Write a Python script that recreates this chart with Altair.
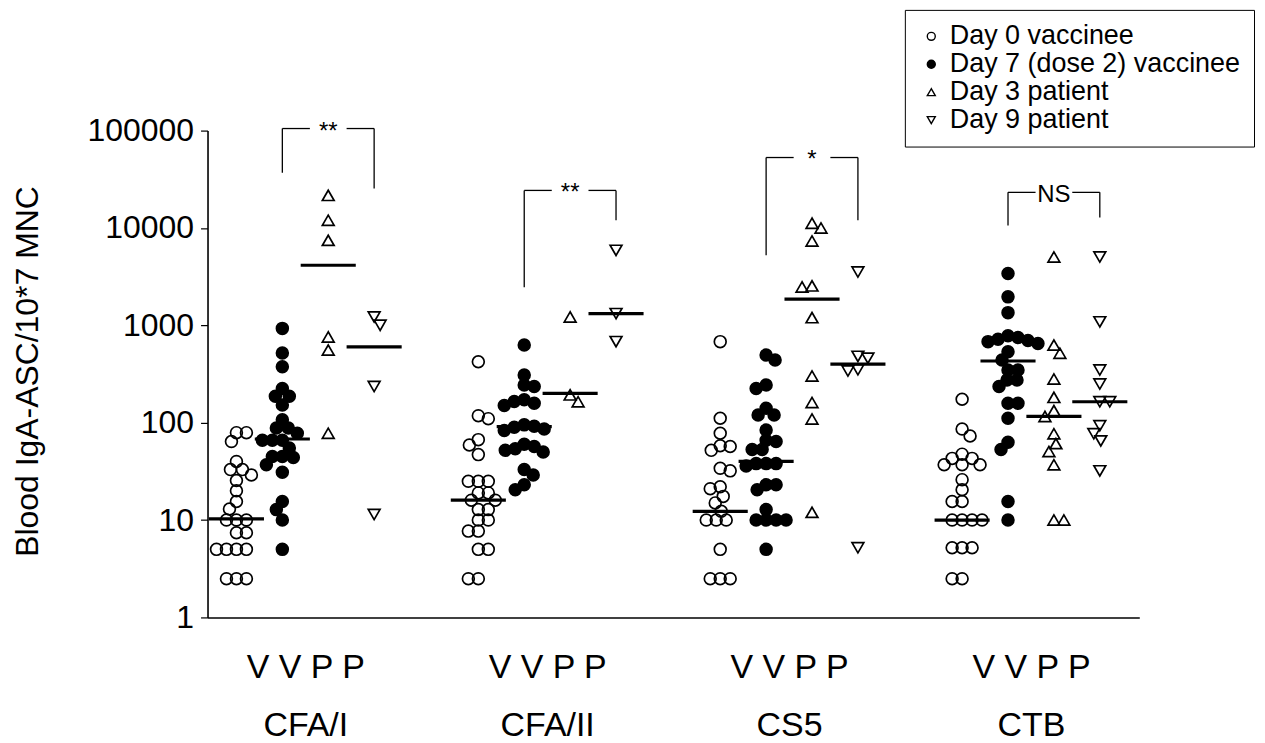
import math
import altair as alt
import pandas as pd

# ---------------- data ----------------
GROUPS = ["CFA/I", "CFA/II", "CS5", "CTB"]
SERIES = ["Day 0 vaccinee", "Day 7 (dose 2) vaccinee", "Day 3 patient", "Day 9 patient"]

CFA1_D0 = [79, 79, 64, 40, 33, 33, 29, 25.5, 20, 15.5, 13, 10, 10, 10, 7.4, 7.4, 5, 5, 5, 5, 2.5, 2.5, 2.5]
CFA1_D7 = [930, 520, 375, 225, 187, 187, 152, 107, 88, 88, 78, 66, 66, 66, 55, 45, 45, 44, 37, 31, 15.5, 12.8, 10, 5]
CFA1_P3 = [21600, 12000, 7460, 760, 557, 78]
CFA1_P9 = [1220, 1000, 235, 11.4]

CFA2_D0 = [423, 118, 110, 67, 59, 47, 25, 25, 25, 19, 19, 16, 16, 12.8, 12.8, 10, 10, 7.7, 7.7, 5, 5, 2.5, 2.5]
CFA2_D7 = [627, 309, 244, 235, 172, 165, 158, 150, 95, 92, 90, 86, 83, 60, 57, 54, 52, 50, 33, 29, 23, 20.5]
CFA2_P3 = [1220, 193, 164]
CFA2_P9 = [5890, 1320, 680]

CS5_D0 = [680, 111, 78, 58, 57, 52, 34, 32, 22, 21, 17.5, 15, 12.3, 10, 10, 10, 5, 2.5, 2.5, 2.5]
CS5_D7 = [495, 440, 244, 225, 141, 120, 120, 84, 66, 64, 53, 53, 38, 38, 38, 36, 23, 23, 20.5, 12.8, 10, 10, 10, 10, 5]
CS5_P3 = [11200, 10000, 7350, 2540, 2480, 1200, 302, 161, 109, 12]
CS5_P9 = [3530, 480, 460, 350, 340, 5.2]

CTB_D0 = [174, 86, 73, 47.5, 43, 43, 37, 37, 37, 26, 20.5, 15.5, 15.5, 10, 10, 10, 10, 5.2, 5.2, 5.2, 2.5, 2.5]
CTB_D7 = [3400, 1960, 1350, 780, 750, 720, 700, 680, 650, 535, 440, 348, 348, 275, 275, 235, 158, 158, 111, 63, 53, 15.5, 10]
CTB_P3 = [5030, 627, 516, 281, 182, 133, 116, 77, 61, 50.6, 37, 10, 10]
CTB_P9 = [5030, 1086, 348, 250, 164, 164, 93, 77, 65, 32]

# median bars as drawn
MED_CFA1 = [10.3, 68, 4140, 600]
MED_CFA2 = [16, 91, 200, 1320]
MED_CS5 = [12.3, 40, 1855, 400]
MED_CTB = [10, 430, 116, 164]

# significance brackets (Day 7 vaccinee vs Day 9 patient)
BR_TOP = [105000, 24300, 52900, 23200]
BR_LEFT_END = [37000, 2460, 5240, 10600]
BR_RIGHT_END = [25500, 12000, 12000, 12800]
BR_LABEL = ["**", "**", "*", "NS"]

DATA = {
    "CFA/I": [CFA1_D0, CFA1_D7, CFA1_P3, CFA1_P9],
    "CFA/II": [CFA2_D0, CFA2_D7, CFA2_P3, CFA2_P9],
    "CS5": [CS5_D0, CS5_D7, CS5_P3, CS5_P9],
    "CTB": [CTB_D0, CTB_D7, CTB_P3, CTB_P9],
}
MEDIANS = {"CFA/I": MED_CFA1, "CFA/II": MED_CFA2, "CS5": MED_CS5, "CTB": MED_CTB}

# ---------------- layout ----------------
FONT = "Liberation Sans, Arial, Helvetica, sans-serif"
W, H = 934, 488
GROUP_STEP = 5.27
X_MIN = -0.63
X_MAX = X_MIN + 20.3
PX_X = W / (X_MAX - X_MIN)
PX_Y = H / 5.0


def swarm(values, dmin=10.0):
    ys = [math.log10(v) * PX_Y for v in values]
    placed, offs = [], []
    flip = 1
    for y in ys:
        k = 0
        hit = None
        while hit is None:
            cands = [0.0] if k == 0 else [float(k * flip), float(-k * flip)]
            for c in cands:
                if all((c - ox) ** 2 + (y - oy) ** 2 >= dmin ** 2 for ox, oy in placed):
                    hit = c
                    break
            k += 1
        if hit != 0:
            flip = -flip
        placed.append((hit, y))
        offs.append(hit)
    return offs


rows = []
for gi, g in enumerate(GROUPS):
    for si, s in enumerate(SERIES):
        vals = DATA[g][si]
        offs = swarm(vals)
        for v, o in zip(vals, offs):
            rows.append({"group": g, "series": s, "value": v,
                         "x": gi * GROUP_STEP + si + o / PX_X})
points_df = pd.DataFrame(rows)

med_rows = []
for gi, g in enumerate(GROUPS):
    for si, s in enumerate(SERIES):
        c = gi * GROUP_STEP + si
        med_rows.append({"x1": c - 0.6, "x2": c + 0.6, "med": MEDIANS[g][si]})
med_df = pd.DataFrame(med_rows)

br_rows, br_text = [], []
for gi, g in enumerate(GROUPS):
    l = gi * GROUP_STEP + 1
    r = gi * GROUP_STEP + 3
    br_rows += [
        {"x": l, "x2": l, "y": BR_LEFT_END[gi], "y2": BR_TOP[gi]},
        {"x": r, "x2": r, "y": BR_RIGHT_END[gi], "y2": BR_TOP[gi]},
        {"x": l, "x2": l + 0.6, "y": BR_TOP[gi], "y2": BR_TOP[gi]},
        {"x": r - 0.6, "x2": r, "y": BR_TOP[gi], "y2": BR_TOP[gi]},
    ]
    br_text.append({"x": (l + r) / 2, "y": BR_TOP[gi], "label": BR_LABEL[gi]})
br_df = pd.DataFrame(br_rows)
brt_df = pd.DataFrame(br_text)

label_pos = [gi * GROUP_STEP + 1.5 for gi in range(len(GROUPS))]
parts = []
for gi, g in enumerate(GROUPS):
    item = "['V V P P', '%s']" % g
    if gi < len(GROUPS) - 1:
        parts.append("datum.value < %.2f ? %s" % (label_pos[gi] + 1, item))
    else:
        parts.append(item)
x_label_expr = " : ".join(parts)

x_scale = alt.Scale(domain=[X_MIN, X_MAX], nice=False, zero=False)
y_scale = alt.Scale(type="log", domain=[1, 100000], nice=False)

x_axis = alt.Axis(values=label_pos, labelExpr=x_label_expr, title=None, ticks=False,
                  grid=False, labelFontSize=34, labelFont=FONT, labelColor="black",
                  labelLineHeight=58, labelPadding=33, labelOverlap=False,
                  labelFlush=False, labelBaseline="top",
                  domainColor="black", domainWidth=1.6)
y_axis = alt.Axis(values=[1, 10, 100, 1000, 10000, 100000], format="d",
                  title="Blood IgA-ASC/10*7 MNC", titleFontSize=32, titleFont=FONT,
                  titleFontWeight="normal", titleColor="black", titleAngle=270,
                  titleX=-180, titleY=241, titleAlign="center", titleBaseline="middle",
                  labelFontSize=32, labelFont=FONT, labelColor="black", labelPadding=7,
                  tickSize=7, tickColor="black", tickWidth=1.2, grid=False,
                  domainColor="black", domainWidth=1.6)

legend = alt.Legend(title=None, orient="none", legendX=699, legendY=-121,
                    labelFontSize=27, labelFont=FONT, labelColor="black", labelLimit=0,
                    symbolSize=64, symbolStrokeWidth=1.4,
                    strokeColor="black", fillColor="white", padding=13, rowPadding=0,
                    labelOffset=5)

fill_scale = alt.Scale(domain=SERIES, range=["transparent", "black", "transparent", "transparent"])
stroke_scale = alt.Scale(domain=SERIES, range=["black", "black", "black", "black"])
shape_scale = alt.Scale(domain=SERIES, range=["circle", "circle", "triangle-up", "triangle-down"])

points = alt.Chart(points_df).mark_point(
    filled=True, strokeWidth=1.7, size=140, opacity=1
).encode(
    x=alt.X("x:Q", scale=x_scale, axis=x_axis),
    y=alt.Y("value:Q", scale=y_scale, axis=y_axis),
    fill=alt.Fill("series:N", scale=fill_scale, legend=legend),
    stroke=alt.Stroke("series:N", scale=stroke_scale, legend=legend),
    shape=alt.Shape("series:N", scale=shape_scale, legend=legend),
)

medians = alt.Chart(med_df).mark_rule(color="black", strokeWidth=3.2).encode(
    x=alt.X("x1:Q", scale=x_scale, axis=x_axis),
    x2="x2:Q",
    y=alt.Y("med:Q", scale=y_scale, axis=y_axis),
)

brackets = alt.Chart(br_df).mark_rule(color="black", strokeWidth=1.3).encode(
    x=alt.X("x:Q", scale=x_scale, axis=x_axis),
    x2="x2:Q",
    y=alt.Y("y:Q", scale=y_scale, axis=y_axis),
    y2="y2:Q",
)

br_labels = alt.Chart(brt_df).mark_text(
    font=FONT, fontSize=24, color="black", baseline="alphabetic", align="center", dy=10
).encode(
    x=alt.X("x:Q", scale=x_scale, axis=x_axis),
    y=alt.Y("y:Q", scale=y_scale, axis=y_axis),
    text="label:N",
)

chart = alt.layer(points, medians, brackets, br_labels).properties(
    width=W, height=H,
    padding={"left": 200, "top": 122, "right": 118, "bottom": 130},
    autosize=alt.AutoSizeParams(type="none"),
).configure(font=FONT).configure_view(strokeWidth=0)

chart.save("out.html", embed_options={"renderer": "svg", "actions": False})
